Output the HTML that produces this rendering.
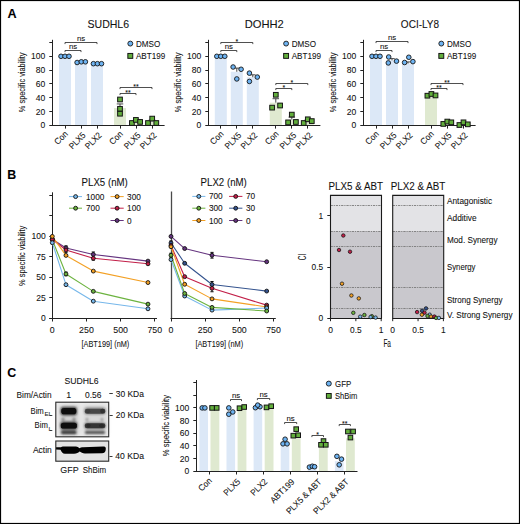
<!DOCTYPE html><html><head><meta charset="utf-8"><title>Figure</title><style>html,body{margin:0;padding:0;background:#fff;}body{width:520px;height:524px;overflow:hidden;font-family:"Liberation Sans", sans-serif;}svg{display:block;} text{stroke:#111;stroke-width:0.08px;}</style></head><body><svg width="520" height="524" viewBox="0 0 520 524" font-family='"Liberation Sans", sans-serif'>
<rect x="0" y="0" width="520" height="524" fill="#fff"/>
<text x="7.6" y="17.9" font-size="12.6" text-anchor="start" font-weight="bold" fill="#000">A</text>
<text x="7.3" y="178.8" font-size="12.4" text-anchor="start" font-weight="bold" fill="#000">B</text>
<text x="7.2" y="376.5" font-size="12.4" text-anchor="start" font-weight="bold" fill="#000">C</text>
<text x="108.3" y="28.3" font-size="10.8" text-anchor="middle" font-weight="normal" fill="#111" textLength="41.6" lengthAdjust="spacingAndGlyphs">SUDHL6</text>
<text transform="translate(24.9 82.4) rotate(-90)" font-size="9.6" text-anchor="middle" fill="#111" textLength="59.6" lengthAdjust="spacingAndGlyphs">% specific viability</text>
<rect x="59" y="56.3" width="12" height="69" fill="#dce8f7"/>
<rect x="75" y="62.16" width="12" height="63.13" fill="#dce8f7"/>
<rect x="91" y="63.68" width="12" height="61.62" fill="#dce8f7"/>
<rect x="114" y="108.12" width="12" height="17.18" fill="#dfe9d0"/>
<rect x="130" y="121.64" width="12" height="3.66" fill="#dfe9d0"/>
<rect x="146" y="121.57" width="12" height="3.73" fill="#dfe9d0"/>
<line x1="52.5" y1="39.8" x2="52.5" y2="126" stroke="#222" stroke-width="1"/>
<line x1="52" y1="125.5" x2="164.6" y2="125.5" stroke="#222" stroke-width="1"/>
<line x1="49.3" y1="125.5" x2="52.5" y2="125.5" stroke="#222" stroke-width="1"/>
<text x="45.3" y="128.4" font-size="8.8" text-anchor="end" font-weight="normal" fill="#111" textLength="4.75" lengthAdjust="spacingAndGlyphs">0</text>
<line x1="49.3" y1="111.5" x2="52.5" y2="111.5" stroke="#222" stroke-width="1"/>
<text x="45.3" y="114.6" font-size="8.8" text-anchor="end" font-weight="normal" fill="#111" textLength="9.5" lengthAdjust="spacingAndGlyphs">20</text>
<line x1="49.3" y1="97.5" x2="52.5" y2="97.5" stroke="#222" stroke-width="1"/>
<text x="45.3" y="100.8" font-size="8.8" text-anchor="end" font-weight="normal" fill="#111" textLength="9.5" lengthAdjust="spacingAndGlyphs">40</text>
<line x1="49.3" y1="83.5" x2="52.5" y2="83.5" stroke="#222" stroke-width="1"/>
<text x="45.3" y="87" font-size="8.8" text-anchor="end" font-weight="normal" fill="#111" textLength="9.5" lengthAdjust="spacingAndGlyphs">60</text>
<line x1="49.3" y1="70.5" x2="52.5" y2="70.5" stroke="#222" stroke-width="1"/>
<text x="45.3" y="73.2" font-size="8.8" text-anchor="end" font-weight="normal" fill="#111" textLength="9.5" lengthAdjust="spacingAndGlyphs">80</text>
<line x1="49.3" y1="56.5" x2="52.5" y2="56.5" stroke="#222" stroke-width="1"/>
<text x="45.3" y="59.4" font-size="8.8" text-anchor="end" font-weight="normal" fill="#111" textLength="14.25" lengthAdjust="spacingAndGlyphs">100</text>
<line x1="49.3" y1="42.5" x2="52.5" y2="42.5" stroke="#222" stroke-width="1"/>
<line x1="65.5" y1="125.5" x2="65.5" y2="128.6" stroke="#222" stroke-width="1"/>
<line x1="81.5" y1="125.5" x2="81.5" y2="128.6" stroke="#222" stroke-width="1"/>
<line x1="97.5" y1="125.5" x2="97.5" y2="128.6" stroke="#222" stroke-width="1"/>
<line x1="120.5" y1="125.5" x2="120.5" y2="128.6" stroke="#222" stroke-width="1"/>
<line x1="136.5" y1="125.5" x2="136.5" y2="128.6" stroke="#222" stroke-width="1"/>
<line x1="152.5" y1="125.5" x2="152.5" y2="128.6" stroke="#222" stroke-width="1"/>
<text transform="translate(68.4 134.6) rotate(-45)" font-size="8.8" text-anchor="end" fill="#111" textLength="15" lengthAdjust="spacingAndGlyphs">Con</text>
<text transform="translate(86.2 135.9) rotate(-45)" font-size="8.8" text-anchor="end" fill="#111" textLength="19.5" lengthAdjust="spacingAndGlyphs">PLX5</text>
<text transform="translate(102.2 135.9) rotate(-45)" font-size="8.8" text-anchor="end" fill="#111" textLength="19.5" lengthAdjust="spacingAndGlyphs">PLX2</text>
<text transform="translate(123.4 134.6) rotate(-45)" font-size="8.8" text-anchor="end" fill="#111" textLength="15" lengthAdjust="spacingAndGlyphs">Con</text>
<text transform="translate(141.2 135.9) rotate(-45)" font-size="8.8" text-anchor="end" fill="#111" textLength="19.5" lengthAdjust="spacingAndGlyphs">PLX5</text>
<text transform="translate(157.2 135.9) rotate(-45)" font-size="8.8" text-anchor="end" fill="#111" textLength="19.5" lengthAdjust="spacingAndGlyphs">PLX2</text>
<line x1="120" y1="108.12" x2="120" y2="103.95" stroke="#333" stroke-width="0.9"/>
<line x1="116.75" y1="103.95" x2="123.25" y2="103.95" stroke="#333" stroke-width="0.9"/>
<line x1="136" y1="121.64" x2="136" y2="120.73" stroke="#333" stroke-width="0.9"/>
<line x1="132.75" y1="120.73" x2="139.25" y2="120.73" stroke="#333" stroke-width="0.9"/>
<line x1="152" y1="121.57" x2="152" y2="120.1" stroke="#333" stroke-width="0.9"/>
<line x1="148.75" y1="120.1" x2="155.25" y2="120.1" stroke="#333" stroke-width="0.9"/>
<circle cx="61" cy="56.3" r="2.3" fill="#6db3f2" stroke="#151515" stroke-width="0.9"/>
<circle cx="65" cy="56.3" r="2.3" fill="#6db3f2" stroke="#151515" stroke-width="0.9"/>
<circle cx="69" cy="56.3" r="2.3" fill="#6db3f2" stroke="#151515" stroke-width="0.9"/>
<circle cx="77.1" cy="62.51" r="2.3" fill="#6db3f2" stroke="#151515" stroke-width="0.9"/>
<circle cx="81.3" cy="61.82" r="2.3" fill="#6db3f2" stroke="#151515" stroke-width="0.9"/>
<circle cx="85.4" cy="61.82" r="2.3" fill="#6db3f2" stroke="#151515" stroke-width="0.9"/>
<circle cx="93.4" cy="63.68" r="2.3" fill="#6db3f2" stroke="#151515" stroke-width="0.9"/>
<circle cx="97.4" cy="63.68" r="2.3" fill="#6db3f2" stroke="#151515" stroke-width="0.9"/>
<circle cx="101.5" cy="63.68" r="2.3" fill="#6db3f2" stroke="#151515" stroke-width="0.9"/>
<rect x="117.65" y="97.14" width="4.7" height="4.7" fill="#62ae3c" stroke="#151515" stroke-width="1"/>
<rect x="117.65" y="106.46" width="4.7" height="4.7" fill="#62ae3c" stroke="#151515" stroke-width="1"/>
<rect x="117.65" y="111.36" width="4.7" height="4.7" fill="#62ae3c" stroke="#151515" stroke-width="1"/>
<rect x="129.55" y="120.67" width="4.7" height="4.7" fill="#62ae3c" stroke="#151515" stroke-width="1"/>
<rect x="133.55" y="117.57" width="4.7" height="4.7" fill="#62ae3c" stroke="#151515" stroke-width="1"/>
<rect x="137.75" y="119.57" width="4.7" height="4.7" fill="#62ae3c" stroke="#151515" stroke-width="1"/>
<rect x="145.65" y="120.67" width="4.7" height="4.7" fill="#62ae3c" stroke="#151515" stroke-width="1"/>
<rect x="149.85" y="116.26" width="4.7" height="4.7" fill="#62ae3c" stroke="#151515" stroke-width="1"/>
<rect x="153.95" y="120.67" width="4.7" height="4.7" fill="#62ae3c" stroke="#151515" stroke-width="1"/>
<path d="M65 44.1V42.5H97V44.1" fill="none" stroke="#222" stroke-width="0.8"/>
<text x="81" y="40.5" font-size="7.8" text-anchor="middle" font-weight="normal" fill="#111">ns</text>
<path d="M65 52.1V50.5H81V52.1" fill="none" stroke="#222" stroke-width="0.8"/>
<text x="73" y="48.5" font-size="7.8" text-anchor="middle" font-weight="normal" fill="#111">ns</text>
<path d="M120 89.1V87.5H152V89.1" fill="none" stroke="#222" stroke-width="0.8"/>
<text x="136" y="88.7" font-size="7" text-anchor="middle" font-weight="normal" fill="#111">**</text>
<path d="M120 95.1V93.5H136V95.1" fill="none" stroke="#222" stroke-width="0.8"/>
<text x="128" y="94.7" font-size="7" text-anchor="middle" font-weight="normal" fill="#111">**</text>
<circle cx="130.3" cy="43.6" r="2.45" fill="#6db3f2" stroke="#151515" stroke-width="0.9"/>
<text x="135.9" y="46.7" font-size="9.2" text-anchor="start" font-weight="normal" fill="#111" textLength="24.3" lengthAdjust="spacingAndGlyphs">DMSO</text>
<rect x="127.85" y="53.45" width="4.9" height="4.9" fill="#62ae3c" stroke="#151515" stroke-width="1"/>
<text x="135.9" y="59" font-size="9.2" text-anchor="start" font-weight="normal" fill="#111" textLength="29.3" lengthAdjust="spacingAndGlyphs">ABT199</text>
<text x="264.2" y="28.3" font-size="10.8" text-anchor="middle" font-weight="normal" fill="#111" textLength="39" lengthAdjust="spacingAndGlyphs">DOHH2</text>
<text transform="translate(180.7 82.4) rotate(-90)" font-size="9.6" text-anchor="middle" fill="#111" textLength="59.6" lengthAdjust="spacingAndGlyphs">% specific viability</text>
<rect x="214.8" y="56.3" width="12" height="69" fill="#dce8f7"/>
<rect x="230.8" y="71.76" width="12" height="53.54" fill="#dce8f7"/>
<rect x="246.8" y="77.21" width="12" height="48.09" fill="#dce8f7"/>
<rect x="269.8" y="102.67" width="12" height="22.63" fill="#dfe9d0"/>
<rect x="285.8" y="119.64" width="12" height="5.66" fill="#dfe9d0"/>
<rect x="301.8" y="121.16" width="12" height="4.14" fill="#dfe9d0"/>
<line x1="208.5" y1="39.8" x2="208.5" y2="126" stroke="#222" stroke-width="1"/>
<line x1="208" y1="125.5" x2="320.4" y2="125.5" stroke="#222" stroke-width="1"/>
<line x1="205.3" y1="125.5" x2="208.5" y2="125.5" stroke="#222" stroke-width="1"/>
<text x="201.3" y="128.4" font-size="8.8" text-anchor="end" font-weight="normal" fill="#111" textLength="4.75" lengthAdjust="spacingAndGlyphs">0</text>
<line x1="205.3" y1="111.5" x2="208.5" y2="111.5" stroke="#222" stroke-width="1"/>
<text x="201.3" y="114.6" font-size="8.8" text-anchor="end" font-weight="normal" fill="#111" textLength="9.5" lengthAdjust="spacingAndGlyphs">20</text>
<line x1="205.3" y1="97.5" x2="208.5" y2="97.5" stroke="#222" stroke-width="1"/>
<text x="201.3" y="100.8" font-size="8.8" text-anchor="end" font-weight="normal" fill="#111" textLength="9.5" lengthAdjust="spacingAndGlyphs">40</text>
<line x1="205.3" y1="83.5" x2="208.5" y2="83.5" stroke="#222" stroke-width="1"/>
<text x="201.3" y="87" font-size="8.8" text-anchor="end" font-weight="normal" fill="#111" textLength="9.5" lengthAdjust="spacingAndGlyphs">60</text>
<line x1="205.3" y1="70.5" x2="208.5" y2="70.5" stroke="#222" stroke-width="1"/>
<text x="201.3" y="73.2" font-size="8.8" text-anchor="end" font-weight="normal" fill="#111" textLength="9.5" lengthAdjust="spacingAndGlyphs">80</text>
<line x1="205.3" y1="56.5" x2="208.5" y2="56.5" stroke="#222" stroke-width="1"/>
<text x="201.3" y="59.4" font-size="8.8" text-anchor="end" font-weight="normal" fill="#111" textLength="14.25" lengthAdjust="spacingAndGlyphs">100</text>
<line x1="205.3" y1="42.5" x2="208.5" y2="42.5" stroke="#222" stroke-width="1"/>
<line x1="220.5" y1="125.5" x2="220.5" y2="128.6" stroke="#222" stroke-width="1"/>
<line x1="236.5" y1="125.5" x2="236.5" y2="128.6" stroke="#222" stroke-width="1"/>
<line x1="252.5" y1="125.5" x2="252.5" y2="128.6" stroke="#222" stroke-width="1"/>
<line x1="275.5" y1="125.5" x2="275.5" y2="128.6" stroke="#222" stroke-width="1"/>
<line x1="291.5" y1="125.5" x2="291.5" y2="128.6" stroke="#222" stroke-width="1"/>
<line x1="307.5" y1="125.5" x2="307.5" y2="128.6" stroke="#222" stroke-width="1"/>
<text transform="translate(224.2 134.6) rotate(-45)" font-size="8.8" text-anchor="end" fill="#111" textLength="15" lengthAdjust="spacingAndGlyphs">Con</text>
<text transform="translate(242 135.9) rotate(-45)" font-size="8.8" text-anchor="end" fill="#111" textLength="19.5" lengthAdjust="spacingAndGlyphs">PLX5</text>
<text transform="translate(258 135.9) rotate(-45)" font-size="8.8" text-anchor="end" fill="#111" textLength="19.5" lengthAdjust="spacingAndGlyphs">PLX2</text>
<text transform="translate(279.2 134.6) rotate(-45)" font-size="8.8" text-anchor="end" fill="#111" textLength="15" lengthAdjust="spacingAndGlyphs">Con</text>
<text transform="translate(297 135.9) rotate(-45)" font-size="8.8" text-anchor="end" fill="#111" textLength="19.5" lengthAdjust="spacingAndGlyphs">PLX5</text>
<text transform="translate(313 135.9) rotate(-45)" font-size="8.8" text-anchor="end" fill="#111" textLength="19.5" lengthAdjust="spacingAndGlyphs">PLX2</text>
<line x1="236.8" y1="71.76" x2="236.8" y2="68.1" stroke="#333" stroke-width="0.9"/>
<line x1="234.05" y1="68.1" x2="239.55" y2="68.1" stroke="#333" stroke-width="0.9"/>
<line x1="252.8" y1="77.21" x2="252.8" y2="74.82" stroke="#333" stroke-width="0.9"/>
<line x1="250.05" y1="74.82" x2="255.55" y2="74.82" stroke="#333" stroke-width="0.9"/>
<line x1="275.8" y1="102.67" x2="275.8" y2="98.7" stroke="#333" stroke-width="0.9"/>
<line x1="272.55" y1="98.7" x2="279.05" y2="98.7" stroke="#333" stroke-width="0.9"/>
<line x1="291.8" y1="119.64" x2="291.8" y2="117.11" stroke="#333" stroke-width="0.9"/>
<line x1="288.55" y1="117.11" x2="295.05" y2="117.11" stroke="#333" stroke-width="0.9"/>
<line x1="307.8" y1="121.16" x2="307.8" y2="120.08" stroke="#333" stroke-width="0.9"/>
<line x1="304.55" y1="120.08" x2="311.05" y2="120.08" stroke="#333" stroke-width="0.9"/>
<circle cx="216.8" cy="56.3" r="2.3" fill="#6db3f2" stroke="#151515" stroke-width="0.9"/>
<circle cx="220.8" cy="56.3" r="2.3" fill="#6db3f2" stroke="#151515" stroke-width="0.9"/>
<circle cx="224.8" cy="56.3" r="2.3" fill="#6db3f2" stroke="#151515" stroke-width="0.9"/>
<circle cx="233.1" cy="67" r="2.3" fill="#6db3f2" stroke="#151515" stroke-width="0.9"/>
<circle cx="241.1" cy="69.27" r="2.3" fill="#6db3f2" stroke="#151515" stroke-width="0.9"/>
<circle cx="236.8" cy="78.93" r="2.3" fill="#6db3f2" stroke="#151515" stroke-width="0.9"/>
<circle cx="249.4" cy="73.14" r="2.3" fill="#6db3f2" stroke="#151515" stroke-width="0.9"/>
<circle cx="257.3" cy="77.07" r="2.3" fill="#6db3f2" stroke="#151515" stroke-width="0.9"/>
<circle cx="249.4" cy="81.42" r="2.3" fill="#6db3f2" stroke="#151515" stroke-width="0.9"/>
<rect x="273.45" y="92.45" width="4.7" height="4.7" fill="#62ae3c" stroke="#151515" stroke-width="1"/>
<rect x="269.75" y="105.29" width="4.7" height="4.7" fill="#62ae3c" stroke="#151515" stroke-width="1"/>
<rect x="277.75" y="103.15" width="4.7" height="4.7" fill="#62ae3c" stroke="#151515" stroke-width="1"/>
<rect x="285.75" y="120.05" width="4.7" height="4.7" fill="#62ae3c" stroke="#151515" stroke-width="1"/>
<rect x="289.45" y="112.26" width="4.7" height="4.7" fill="#62ae3c" stroke="#151515" stroke-width="1"/>
<rect x="293.55" y="119.64" width="4.7" height="4.7" fill="#62ae3c" stroke="#151515" stroke-width="1"/>
<rect x="301.35" y="120.67" width="4.7" height="4.7" fill="#62ae3c" stroke="#151515" stroke-width="1"/>
<rect x="305.45" y="116.95" width="4.7" height="4.7" fill="#62ae3c" stroke="#151515" stroke-width="1"/>
<rect x="309.45" y="118.74" width="4.7" height="4.7" fill="#62ae3c" stroke="#151515" stroke-width="1"/>
<path d="M220.8 44.1V42.5H252.8V44.1" fill="none" stroke="#222" stroke-width="0.8"/>
<text x="236.8" y="43.7" font-size="7" text-anchor="middle" font-weight="normal" fill="#111">*</text>
<path d="M220.8 52.1V50.5H236.8V52.1" fill="none" stroke="#222" stroke-width="0.8"/>
<text x="228.8" y="48.5" font-size="7.8" text-anchor="middle" font-weight="normal" fill="#111">ns</text>
<path d="M275.8 85.1V83.5H307.8V85.1" fill="none" stroke="#222" stroke-width="0.8"/>
<text x="291.8" y="84.7" font-size="7" text-anchor="middle" font-weight="normal" fill="#111">*</text>
<path d="M275.8 90.1V88.5H291.8V90.1" fill="none" stroke="#222" stroke-width="0.8"/>
<text x="283.8" y="89.7" font-size="7" text-anchor="middle" font-weight="normal" fill="#111">*</text>
<circle cx="286.1" cy="43.6" r="2.45" fill="#6db3f2" stroke="#151515" stroke-width="0.9"/>
<text x="291.7" y="46.7" font-size="9.2" text-anchor="start" font-weight="normal" fill="#111" textLength="24.3" lengthAdjust="spacingAndGlyphs">DMSO</text>
<rect x="283.65" y="53.45" width="4.9" height="4.9" fill="#62ae3c" stroke="#151515" stroke-width="1"/>
<text x="291.7" y="59" font-size="9.2" text-anchor="start" font-weight="normal" fill="#111" textLength="29.3" lengthAdjust="spacingAndGlyphs">ABT199</text>
<text x="420" y="28.3" font-size="10.8" text-anchor="middle" font-weight="normal" fill="#111" textLength="38.3" lengthAdjust="spacingAndGlyphs">OCI-LY8</text>
<text transform="translate(335.9 82.4) rotate(-90)" font-size="9.6" text-anchor="middle" fill="#111" textLength="59.6" lengthAdjust="spacingAndGlyphs">% specific viability</text>
<rect x="370" y="56.3" width="12" height="69" fill="#dce8f7"/>
<rect x="386" y="60.37" width="12" height="64.93" fill="#dce8f7"/>
<rect x="402" y="63.55" width="12" height="61.75" fill="#dce8f7"/>
<rect x="425" y="95.01" width="12" height="30.29" fill="#dfe9d0"/>
<rect x="441" y="122.61" width="12" height="2.69" fill="#dfe9d0"/>
<rect x="457" y="123.92" width="12" height="1.38" fill="#dfe9d0"/>
<line x1="363.5" y1="39.8" x2="363.5" y2="126" stroke="#222" stroke-width="1"/>
<line x1="363" y1="125.5" x2="475.6" y2="125.5" stroke="#222" stroke-width="1"/>
<line x1="360.3" y1="125.5" x2="363.5" y2="125.5" stroke="#222" stroke-width="1"/>
<text x="356.3" y="128.4" font-size="8.8" text-anchor="end" font-weight="normal" fill="#111" textLength="4.75" lengthAdjust="spacingAndGlyphs">0</text>
<line x1="360.3" y1="111.5" x2="363.5" y2="111.5" stroke="#222" stroke-width="1"/>
<text x="356.3" y="114.6" font-size="8.8" text-anchor="end" font-weight="normal" fill="#111" textLength="9.5" lengthAdjust="spacingAndGlyphs">20</text>
<line x1="360.3" y1="97.5" x2="363.5" y2="97.5" stroke="#222" stroke-width="1"/>
<text x="356.3" y="100.8" font-size="8.8" text-anchor="end" font-weight="normal" fill="#111" textLength="9.5" lengthAdjust="spacingAndGlyphs">40</text>
<line x1="360.3" y1="83.5" x2="363.5" y2="83.5" stroke="#222" stroke-width="1"/>
<text x="356.3" y="87" font-size="8.8" text-anchor="end" font-weight="normal" fill="#111" textLength="9.5" lengthAdjust="spacingAndGlyphs">60</text>
<line x1="360.3" y1="70.5" x2="363.5" y2="70.5" stroke="#222" stroke-width="1"/>
<text x="356.3" y="73.2" font-size="8.8" text-anchor="end" font-weight="normal" fill="#111" textLength="9.5" lengthAdjust="spacingAndGlyphs">80</text>
<line x1="360.3" y1="56.5" x2="363.5" y2="56.5" stroke="#222" stroke-width="1"/>
<text x="356.3" y="59.4" font-size="8.8" text-anchor="end" font-weight="normal" fill="#111" textLength="14.25" lengthAdjust="spacingAndGlyphs">100</text>
<line x1="360.3" y1="42.5" x2="363.5" y2="42.5" stroke="#222" stroke-width="1"/>
<line x1="376.5" y1="125.5" x2="376.5" y2="128.6" stroke="#222" stroke-width="1"/>
<line x1="392.5" y1="125.5" x2="392.5" y2="128.6" stroke="#222" stroke-width="1"/>
<line x1="408.5" y1="125.5" x2="408.5" y2="128.6" stroke="#222" stroke-width="1"/>
<line x1="431.5" y1="125.5" x2="431.5" y2="128.6" stroke="#222" stroke-width="1"/>
<line x1="447.5" y1="125.5" x2="447.5" y2="128.6" stroke="#222" stroke-width="1"/>
<line x1="463.5" y1="125.5" x2="463.5" y2="128.6" stroke="#222" stroke-width="1"/>
<text transform="translate(379.4 134.6) rotate(-45)" font-size="8.8" text-anchor="end" fill="#111" textLength="15" lengthAdjust="spacingAndGlyphs">Con</text>
<text transform="translate(397.2 135.9) rotate(-45)" font-size="8.8" text-anchor="end" fill="#111" textLength="19.5" lengthAdjust="spacingAndGlyphs">PLX5</text>
<text transform="translate(413.2 135.9) rotate(-45)" font-size="8.8" text-anchor="end" fill="#111" textLength="19.5" lengthAdjust="spacingAndGlyphs">PLX2</text>
<text transform="translate(434.4 134.6) rotate(-45)" font-size="8.8" text-anchor="end" fill="#111" textLength="15" lengthAdjust="spacingAndGlyphs">Con</text>
<text transform="translate(452.2 135.9) rotate(-45)" font-size="8.8" text-anchor="end" fill="#111" textLength="19.5" lengthAdjust="spacingAndGlyphs">PLX5</text>
<text transform="translate(468.2 135.9) rotate(-45)" font-size="8.8" text-anchor="end" fill="#111" textLength="19.5" lengthAdjust="spacingAndGlyphs">PLX2</text>
<line x1="392" y1="60.37" x2="392" y2="58.61" stroke="#333" stroke-width="0.9"/>
<line x1="389.25" y1="58.61" x2="394.75" y2="58.61" stroke="#333" stroke-width="0.9"/>
<line x1="408" y1="63.55" x2="408" y2="61.93" stroke="#333" stroke-width="0.9"/>
<line x1="405.25" y1="61.93" x2="410.75" y2="61.93" stroke="#333" stroke-width="0.9"/>
<line x1="463" y1="123.92" x2="463" y2="123.11" stroke="#333" stroke-width="0.9"/>
<line x1="459.75" y1="123.11" x2="466.25" y2="123.11" stroke="#333" stroke-width="0.9"/>
<circle cx="372" cy="56.3" r="2.3" fill="#6db3f2" stroke="#151515" stroke-width="0.9"/>
<circle cx="376" cy="56.3" r="2.3" fill="#6db3f2" stroke="#151515" stroke-width="0.9"/>
<circle cx="380" cy="56.3" r="2.3" fill="#6db3f2" stroke="#151515" stroke-width="0.9"/>
<circle cx="388.7" cy="56.99" r="2.3" fill="#6db3f2" stroke="#151515" stroke-width="0.9"/>
<circle cx="388.3" cy="62.92" r="2.3" fill="#6db3f2" stroke="#151515" stroke-width="0.9"/>
<circle cx="396.5" cy="61.13" r="2.3" fill="#6db3f2" stroke="#151515" stroke-width="0.9"/>
<circle cx="404.6" cy="62.51" r="2.3" fill="#6db3f2" stroke="#151515" stroke-width="0.9"/>
<circle cx="408.8" cy="57.27" r="2.3" fill="#6db3f2" stroke="#151515" stroke-width="0.9"/>
<circle cx="412.9" cy="61.61" r="2.3" fill="#6db3f2" stroke="#151515" stroke-width="0.9"/>
<rect x="425.05" y="93.35" width="4.7" height="4.7" fill="#62ae3c" stroke="#151515" stroke-width="1"/>
<rect x="429.05" y="91.62" width="4.7" height="4.7" fill="#62ae3c" stroke="#151515" stroke-width="1"/>
<rect x="433.15" y="93.07" width="4.7" height="4.7" fill="#62ae3c" stroke="#151515" stroke-width="1"/>
<rect x="440.95" y="121.57" width="4.7" height="4.7" fill="#62ae3c" stroke="#151515" stroke-width="1"/>
<rect x="444.95" y="119.22" width="4.7" height="4.7" fill="#62ae3c" stroke="#151515" stroke-width="1"/>
<rect x="448.95" y="119.98" width="4.7" height="4.7" fill="#62ae3c" stroke="#151515" stroke-width="1"/>
<rect x="457.05" y="122.67" width="4.7" height="4.7" fill="#62ae3c" stroke="#151515" stroke-width="1"/>
<rect x="461.15" y="119.98" width="4.7" height="4.7" fill="#62ae3c" stroke="#151515" stroke-width="1"/>
<rect x="465.45" y="121.98" width="4.7" height="4.7" fill="#62ae3c" stroke="#151515" stroke-width="1"/>
<path d="M376 43.1V41.5H408V43.1" fill="none" stroke="#222" stroke-width="0.8"/>
<text x="392" y="39.5" font-size="7.8" text-anchor="middle" font-weight="normal" fill="#111">ns</text>
<path d="M376 52.1V50.5H392V52.1" fill="none" stroke="#222" stroke-width="0.8"/>
<text x="384" y="48.5" font-size="7.8" text-anchor="middle" font-weight="normal" fill="#111">ns</text>
<path d="M431 85.1V83.5H463V85.1" fill="none" stroke="#222" stroke-width="0.8"/>
<text x="447" y="84.7" font-size="7" text-anchor="middle" font-weight="normal" fill="#111">**</text>
<path d="M431 90.1V88.5H447V90.1" fill="none" stroke="#222" stroke-width="0.8"/>
<text x="439" y="89.7" font-size="7" text-anchor="middle" font-weight="normal" fill="#111">**</text>
<circle cx="441.3" cy="43.6" r="2.45" fill="#6db3f2" stroke="#151515" stroke-width="0.9"/>
<text x="446.9" y="46.7" font-size="9.2" text-anchor="start" font-weight="normal" fill="#111" textLength="24.3" lengthAdjust="spacingAndGlyphs">DMSO</text>
<rect x="438.85" y="53.45" width="4.9" height="4.9" fill="#62ae3c" stroke="#151515" stroke-width="1"/>
<text x="446.9" y="59" font-size="9.2" text-anchor="start" font-weight="normal" fill="#111" textLength="29.3" lengthAdjust="spacingAndGlyphs">ABT199</text>
<text transform="translate(25 255.9) rotate(-90)" font-size="9.6" text-anchor="middle" fill="#111" textLength="60.2" lengthAdjust="spacingAndGlyphs">% specific viability</text>
<line x1="52.5" y1="192.3" x2="52.5" y2="319" stroke="#222" stroke-width="1"/>
<line x1="49.3" y1="318.5" x2="157" y2="318.5" stroke="#222" stroke-width="1"/>
<line x1="49.3" y1="318.5" x2="52.5" y2="318.5" stroke="#222" stroke-width="1"/>
<text x="45.7" y="321" font-size="8.8" text-anchor="end" font-weight="normal" fill="#111" textLength="4.75" lengthAdjust="spacingAndGlyphs">0</text>
<line x1="49.3" y1="297.5" x2="52.5" y2="297.5" stroke="#222" stroke-width="1"/>
<text x="45.7" y="300.5" font-size="8.8" text-anchor="end" font-weight="normal" fill="#111" textLength="9.5" lengthAdjust="spacingAndGlyphs">25</text>
<line x1="49.3" y1="277.5" x2="52.5" y2="277.5" stroke="#222" stroke-width="1"/>
<text x="45.7" y="280" font-size="8.8" text-anchor="end" font-weight="normal" fill="#111" textLength="9.5" lengthAdjust="spacingAndGlyphs">50</text>
<line x1="49.3" y1="256.5" x2="52.5" y2="256.5" stroke="#222" stroke-width="1"/>
<text x="45.7" y="259.5" font-size="8.8" text-anchor="end" font-weight="normal" fill="#111" textLength="9.5" lengthAdjust="spacingAndGlyphs">75</text>
<line x1="49.3" y1="236.5" x2="52.5" y2="236.5" stroke="#222" stroke-width="1"/>
<text x="45.7" y="239" font-size="8.8" text-anchor="end" font-weight="normal" fill="#111" textLength="14.25" lengthAdjust="spacingAndGlyphs">100</text>
<line x1="49.3" y1="215.5" x2="52.5" y2="215.5" stroke="#222" stroke-width="1"/>
<line x1="49.3" y1="195.5" x2="52.5" y2="195.5" stroke="#222" stroke-width="1"/>
<line x1="52.5" y1="318.5" x2="52.5" y2="321.5" stroke="#222" stroke-width="1"/>
<text x="52.3" y="332.6" font-size="8.8" text-anchor="middle" font-weight="normal" fill="#111" textLength="4.9" lengthAdjust="spacingAndGlyphs">0</text>
<line x1="86.5" y1="318.5" x2="86.5" y2="321.5" stroke="#222" stroke-width="1"/>
<text x="86.47" y="332.6" font-size="8.8" text-anchor="middle" font-weight="normal" fill="#111" textLength="14.7" lengthAdjust="spacingAndGlyphs">250</text>
<line x1="120.5" y1="318.5" x2="120.5" y2="321.5" stroke="#222" stroke-width="1"/>
<text x="120.65" y="332.6" font-size="8.8" text-anchor="middle" font-weight="normal" fill="#111" textLength="14.7" lengthAdjust="spacingAndGlyphs">500</text>
<line x1="154.5" y1="318.5" x2="154.5" y2="321.5" stroke="#222" stroke-width="1"/>
<text x="154.82" y="332.6" font-size="8.8" text-anchor="middle" font-weight="normal" fill="#111" textLength="14.7" lengthAdjust="spacingAndGlyphs">750</text>
<text x="105.4" y="346.8" font-size="9.6" text-anchor="middle" font-weight="normal" fill="#111" textLength="47.8" lengthAdjust="spacingAndGlyphs">[ABT199] (nM)</text>
<text x="104.7" y="185.9" font-size="10.2" text-anchor="middle" font-weight="normal" fill="#111" textLength="46.2" lengthAdjust="spacingAndGlyphs">PLX5 (nM)</text>
<polyline points="52.3,239.68 65.97,273.96 93.31,291.34 147.99,304.13" fill="none" stroke="#6cb33f" stroke-width="1.1" stroke-linejoin="round"/>
<polyline points="52.3,239.19 65.97,247.96 93.31,254.44 147.99,261.08" fill="none" stroke="#65347f" stroke-width="1.1" stroke-linejoin="round"/>
<polyline points="52.3,239.35 65.97,250.01 93.31,258.29 147.99,263.79" fill="none" stroke="#c21f48" stroke-width="1.1" stroke-linejoin="round"/>
<polyline points="52.3,236.4 65.97,255.42 93.31,271.09 147.99,282.57" fill="none" stroke="#f3a024" stroke-width="1.1" stroke-linejoin="round"/>
<polyline points="52.3,242.71 65.97,284.7 93.31,301.18 147.99,308.81" fill="none" stroke="#76b7ea" stroke-width="1.1" stroke-linejoin="round"/>
<line x1="65.97" y1="245.83" x2="65.97" y2="252.39" stroke="#111" stroke-width="1"/>
<line x1="64.37" y1="245.83" x2="67.57" y2="245.83" stroke="#111" stroke-width="1"/>
<line x1="64.37" y1="252.39" x2="67.57" y2="252.39" stroke="#111" stroke-width="1"/>
<line x1="93.31" y1="251.98" x2="93.31" y2="260.18" stroke="#111" stroke-width="1"/>
<line x1="91.71" y1="251.98" x2="94.91" y2="251.98" stroke="#111" stroke-width="1"/>
<line x1="91.71" y1="260.18" x2="94.91" y2="260.18" stroke="#111" stroke-width="1"/>
<line x1="65.97" y1="272.07" x2="65.97" y2="275.76" stroke="#111" stroke-width="1"/>
<line x1="64.37" y1="272.07" x2="67.57" y2="272.07" stroke="#111" stroke-width="1"/>
<line x1="64.37" y1="275.76" x2="67.57" y2="275.76" stroke="#111" stroke-width="1"/>
<line x1="52.3" y1="238.04" x2="52.3" y2="240.5" stroke="#111" stroke-width="1"/>
<line x1="50.7" y1="238.04" x2="53.9" y2="238.04" stroke="#111" stroke-width="1"/>
<line x1="50.7" y1="240.5" x2="53.9" y2="240.5" stroke="#111" stroke-width="1"/>
<circle cx="52.3" cy="239.68" r="1.95" fill="#6cb33f" stroke="#111" stroke-width="0.9"/>
<circle cx="65.97" cy="273.96" r="1.95" fill="#6cb33f" stroke="#111" stroke-width="0.9"/>
<circle cx="93.31" cy="291.34" r="1.95" fill="#6cb33f" stroke="#111" stroke-width="0.9"/>
<circle cx="147.99" cy="304.13" r="1.95" fill="#6cb33f" stroke="#111" stroke-width="0.9"/>
<circle cx="52.3" cy="239.19" r="1.95" fill="#65347f" stroke="#111" stroke-width="0.9"/>
<circle cx="65.97" cy="247.96" r="1.95" fill="#65347f" stroke="#111" stroke-width="0.9"/>
<circle cx="93.31" cy="254.44" r="1.95" fill="#65347f" stroke="#111" stroke-width="0.9"/>
<circle cx="147.99" cy="261.08" r="1.95" fill="#65347f" stroke="#111" stroke-width="0.9"/>
<circle cx="52.3" cy="239.35" r="1.95" fill="#c21f48" stroke="#111" stroke-width="0.9"/>
<circle cx="65.97" cy="250.01" r="1.95" fill="#c21f48" stroke="#111" stroke-width="0.9"/>
<circle cx="93.31" cy="258.29" r="1.95" fill="#c21f48" stroke="#111" stroke-width="0.9"/>
<circle cx="147.99" cy="263.79" r="1.95" fill="#c21f48" stroke="#111" stroke-width="0.9"/>
<circle cx="52.3" cy="236.4" r="1.95" fill="#f3a024" stroke="#111" stroke-width="0.9"/>
<circle cx="65.97" cy="255.42" r="1.95" fill="#f3a024" stroke="#111" stroke-width="0.9"/>
<circle cx="93.31" cy="271.09" r="1.95" fill="#f3a024" stroke="#111" stroke-width="0.9"/>
<circle cx="147.99" cy="282.57" r="1.95" fill="#f3a024" stroke="#111" stroke-width="0.9"/>
<circle cx="52.3" cy="242.71" r="1.95" fill="#76b7ea" stroke="#111" stroke-width="0.9"/>
<circle cx="65.97" cy="284.7" r="1.95" fill="#76b7ea" stroke="#111" stroke-width="0.9"/>
<circle cx="93.31" cy="301.18" r="1.95" fill="#76b7ea" stroke="#111" stroke-width="0.9"/>
<circle cx="147.99" cy="308.81" r="1.95" fill="#76b7ea" stroke="#111" stroke-width="0.9"/>
<line x1="69" y1="196.6" x2="82" y2="196.6" stroke="#76b7ea" stroke-width="1"/>
<circle cx="75.6" cy="196.6" r="1.95" fill="#76b7ea" stroke="#111" stroke-width="0.9"/>
<text x="86" y="199.6" font-size="8.9" text-anchor="start" font-weight="normal" fill="#111" textLength="18.4" lengthAdjust="spacingAndGlyphs">1000</text>
<line x1="110.5" y1="196.6" x2="123.7" y2="196.6" stroke="#f3a024" stroke-width="1"/>
<circle cx="117.1" cy="196.6" r="1.95" fill="#f3a024" stroke="#111" stroke-width="0.9"/>
<text x="127.1" y="199.6" font-size="8.9" text-anchor="start" font-weight="normal" fill="#111" textLength="13.8" lengthAdjust="spacingAndGlyphs">300</text>
<line x1="69" y1="208.2" x2="82" y2="208.2" stroke="#6cb33f" stroke-width="1"/>
<circle cx="75.6" cy="208.2" r="1.95" fill="#6cb33f" stroke="#111" stroke-width="0.9"/>
<text x="86" y="211.2" font-size="8.9" text-anchor="start" font-weight="normal" fill="#111" textLength="13.8" lengthAdjust="spacingAndGlyphs">700</text>
<line x1="110.5" y1="208.2" x2="123.7" y2="208.2" stroke="#c21f48" stroke-width="1"/>
<circle cx="117.1" cy="208.2" r="1.95" fill="#c21f48" stroke="#111" stroke-width="0.9"/>
<text x="127.1" y="211.2" font-size="8.9" text-anchor="start" font-weight="normal" fill="#111" textLength="13.8" lengthAdjust="spacingAndGlyphs">100</text>
<line x1="110.5" y1="220.5" x2="123.7" y2="220.5" stroke="#65347f" stroke-width="1"/>
<circle cx="117.1" cy="220.5" r="1.95" fill="#65347f" stroke="#111" stroke-width="0.9"/>
<text x="127.1" y="223.5" font-size="8.9" text-anchor="start" font-weight="normal" fill="#111" textLength="4.6" lengthAdjust="spacingAndGlyphs">0</text>
<line x1="171.5" y1="191.5" x2="171.5" y2="319" stroke="#4a4a4a" stroke-width="1.3"/>
<line x1="170.5" y1="318.5" x2="275.8" y2="318.5" stroke="#222" stroke-width="1"/>
<line x1="171.5" y1="318.5" x2="171.5" y2="321.5" stroke="#222" stroke-width="1"/>
<text x="171" y="332.6" font-size="8.8" text-anchor="middle" font-weight="normal" fill="#111" textLength="4.9" lengthAdjust="spacingAndGlyphs">0</text>
<line x1="205.5" y1="318.5" x2="205.5" y2="321.5" stroke="#222" stroke-width="1"/>
<text x="205.18" y="332.6" font-size="8.8" text-anchor="middle" font-weight="normal" fill="#111" textLength="14.7" lengthAdjust="spacingAndGlyphs">250</text>
<line x1="239.5" y1="318.5" x2="239.5" y2="321.5" stroke="#222" stroke-width="1"/>
<text x="239.35" y="332.6" font-size="8.8" text-anchor="middle" font-weight="normal" fill="#111" textLength="14.7" lengthAdjust="spacingAndGlyphs">500</text>
<line x1="273.5" y1="318.5" x2="273.5" y2="321.5" stroke="#222" stroke-width="1"/>
<text x="273.52" y="332.6" font-size="8.8" text-anchor="middle" font-weight="normal" fill="#111" textLength="14.7" lengthAdjust="spacingAndGlyphs">750</text>
<text x="219.3" y="346.8" font-size="9.6" text-anchor="middle" font-weight="normal" fill="#111" textLength="47.8" lengthAdjust="spacingAndGlyphs">[ABT199] (nM)</text>
<text x="223.7" y="185.9" font-size="10.2" text-anchor="middle" font-weight="normal" fill="#111" textLength="46.2" lengthAdjust="spacingAndGlyphs">PLX2 (nM)</text>
<polyline points="171,236.4 184.67,248.54 212.01,255.26 266.69,261.74" fill="none" stroke="#65347f" stroke-width="1.1" stroke-linejoin="round"/>
<polyline points="171,242.96 184.67,263.3 212.01,284.53 266.69,291.09" fill="none" stroke="#34538e" stroke-width="1.1" stroke-linejoin="round"/>
<polyline points="171,245.42 184.67,276.66 212.01,288.31 266.69,305.12" fill="none" stroke="#c21f48" stroke-width="1.1" stroke-linejoin="round"/>
<polyline points="171,246.73 184.67,284.29 212.01,298.88 266.69,306.92" fill="none" stroke="#f3a024" stroke-width="1.1" stroke-linejoin="round"/>
<polyline points="171,259.61 184.67,296.01 212.01,310.12 266.69,308.07" fill="none" stroke="#76b7ea" stroke-width="1.1" stroke-linejoin="round"/>
<polyline points="171,255.26 184.67,293.47 212.01,307.41 266.69,311.02" fill="none" stroke="#6cb33f" stroke-width="1.1" stroke-linejoin="round"/>
<line x1="212.01" y1="252.39" x2="212.01" y2="258.13" stroke="#111" stroke-width="1"/>
<line x1="210.41" y1="252.39" x2="213.61" y2="252.39" stroke="#111" stroke-width="1"/>
<line x1="210.41" y1="258.13" x2="213.61" y2="258.13" stroke="#111" stroke-width="1"/>
<line x1="212.01" y1="281.5" x2="212.01" y2="291.75" stroke="#111" stroke-width="1"/>
<line x1="210.41" y1="281.5" x2="213.61" y2="281.5" stroke="#111" stroke-width="1"/>
<line x1="210.41" y1="291.75" x2="213.61" y2="291.75" stroke="#111" stroke-width="1"/>
<line x1="171" y1="240.91" x2="171" y2="245.01" stroke="#111" stroke-width="1"/>
<line x1="169.4" y1="240.91" x2="172.6" y2="240.91" stroke="#111" stroke-width="1"/>
<line x1="169.4" y1="245.01" x2="172.6" y2="245.01" stroke="#111" stroke-width="1"/>
<line x1="171" y1="253.21" x2="171" y2="257.31" stroke="#111" stroke-width="1"/>
<line x1="169.4" y1="253.21" x2="172.6" y2="253.21" stroke="#111" stroke-width="1"/>
<line x1="169.4" y1="257.31" x2="172.6" y2="257.31" stroke="#111" stroke-width="1"/>
<circle cx="171" cy="236.4" r="1.95" fill="#65347f" stroke="#111" stroke-width="0.9"/>
<circle cx="184.67" cy="248.54" r="1.95" fill="#65347f" stroke="#111" stroke-width="0.9"/>
<circle cx="212.01" cy="255.26" r="1.95" fill="#65347f" stroke="#111" stroke-width="0.9"/>
<circle cx="266.69" cy="261.74" r="1.95" fill="#65347f" stroke="#111" stroke-width="0.9"/>
<circle cx="171" cy="242.96" r="1.95" fill="#34538e" stroke="#111" stroke-width="0.9"/>
<circle cx="184.67" cy="263.3" r="1.95" fill="#34538e" stroke="#111" stroke-width="0.9"/>
<circle cx="212.01" cy="284.53" r="1.95" fill="#34538e" stroke="#111" stroke-width="0.9"/>
<circle cx="266.69" cy="291.09" r="1.95" fill="#34538e" stroke="#111" stroke-width="0.9"/>
<circle cx="171" cy="245.42" r="1.95" fill="#c21f48" stroke="#111" stroke-width="0.9"/>
<circle cx="184.67" cy="276.66" r="1.95" fill="#c21f48" stroke="#111" stroke-width="0.9"/>
<circle cx="212.01" cy="288.31" r="1.95" fill="#c21f48" stroke="#111" stroke-width="0.9"/>
<circle cx="266.69" cy="305.12" r="1.95" fill="#c21f48" stroke="#111" stroke-width="0.9"/>
<circle cx="171" cy="246.73" r="1.95" fill="#f3a024" stroke="#111" stroke-width="0.9"/>
<circle cx="184.67" cy="284.29" r="1.95" fill="#f3a024" stroke="#111" stroke-width="0.9"/>
<circle cx="212.01" cy="298.88" r="1.95" fill="#f3a024" stroke="#111" stroke-width="0.9"/>
<circle cx="266.69" cy="306.92" r="1.95" fill="#f3a024" stroke="#111" stroke-width="0.9"/>
<circle cx="171" cy="259.61" r="1.95" fill="#76b7ea" stroke="#111" stroke-width="0.9"/>
<circle cx="184.67" cy="296.01" r="1.95" fill="#76b7ea" stroke="#111" stroke-width="0.9"/>
<circle cx="212.01" cy="310.12" r="1.95" fill="#76b7ea" stroke="#111" stroke-width="0.9"/>
<circle cx="266.69" cy="308.07" r="1.95" fill="#76b7ea" stroke="#111" stroke-width="0.9"/>
<circle cx="171" cy="255.26" r="1.95" fill="#6cb33f" stroke="#111" stroke-width="0.9"/>
<circle cx="184.67" cy="293.47" r="1.95" fill="#6cb33f" stroke="#111" stroke-width="0.9"/>
<circle cx="212.01" cy="307.41" r="1.95" fill="#6cb33f" stroke="#111" stroke-width="0.9"/>
<circle cx="266.69" cy="311.02" r="1.95" fill="#6cb33f" stroke="#111" stroke-width="0.9"/>
<line x1="192.3" y1="196.4" x2="205.4" y2="196.4" stroke="#76b7ea" stroke-width="1"/>
<circle cx="198.8" cy="196.4" r="1.95" fill="#76b7ea" stroke="#111" stroke-width="0.9"/>
<text x="208.9" y="199.4" font-size="8.9" text-anchor="start" font-weight="normal" fill="#111" textLength="13.8" lengthAdjust="spacingAndGlyphs">700</text>
<line x1="229.1" y1="196.4" x2="242.4" y2="196.4" stroke="#c21f48" stroke-width="1"/>
<circle cx="235.7" cy="196.4" r="1.95" fill="#c21f48" stroke="#111" stroke-width="0.9"/>
<text x="245.9" y="199.4" font-size="8.9" text-anchor="start" font-weight="normal" fill="#111" textLength="9.2" lengthAdjust="spacingAndGlyphs">70</text>
<line x1="192.3" y1="208.2" x2="205.4" y2="208.2" stroke="#6cb33f" stroke-width="1"/>
<circle cx="198.8" cy="208.2" r="1.95" fill="#6cb33f" stroke="#111" stroke-width="0.9"/>
<text x="208.9" y="211.2" font-size="8.9" text-anchor="start" font-weight="normal" fill="#111" textLength="13.8" lengthAdjust="spacingAndGlyphs">300</text>
<line x1="229.1" y1="208.2" x2="242.4" y2="208.2" stroke="#34538e" stroke-width="1"/>
<circle cx="235.7" cy="208.2" r="1.95" fill="#34538e" stroke="#111" stroke-width="0.9"/>
<text x="245.9" y="211.2" font-size="8.9" text-anchor="start" font-weight="normal" fill="#111" textLength="9.2" lengthAdjust="spacingAndGlyphs">30</text>
<line x1="192.3" y1="220.5" x2="205.4" y2="220.5" stroke="#f3a024" stroke-width="1"/>
<circle cx="198.8" cy="220.5" r="1.95" fill="#f3a024" stroke="#111" stroke-width="0.9"/>
<text x="208.9" y="223.5" font-size="8.9" text-anchor="start" font-weight="normal" fill="#111" textLength="13.8" lengthAdjust="spacingAndGlyphs">100</text>
<line x1="229.1" y1="220.5" x2="242.4" y2="220.5" stroke="#65347f" stroke-width="1"/>
<circle cx="235.7" cy="220.5" r="1.95" fill="#65347f" stroke="#111" stroke-width="0.9"/>
<text x="245.9" y="223.5" font-size="8.9" text-anchor="start" font-weight="normal" fill="#111" textLength="4.6" lengthAdjust="spacingAndGlyphs">0</text>
<rect x="330.5" y="195.4" width="51" height="35.79" fill="#e3e3e6"/>
<rect x="330.5" y="231.19" width="51" height="87.21" fill="#c9c8cd"/>
<line x1="330.5" y1="205.5" x2="381.5" y2="205.5" stroke="#757575" stroke-width="0.85" stroke-dasharray="2.3 0.9 1.2 0.9"/>
<line x1="330.5" y1="231.5" x2="381.5" y2="231.5" stroke="#757575" stroke-width="0.85" stroke-dasharray="2.3 0.9 1.2 0.9"/>
<line x1="330.5" y1="246.5" x2="381.5" y2="246.5" stroke="#757575" stroke-width="0.85" stroke-dasharray="2.3 0.9 1.2 0.9"/>
<line x1="330.5" y1="287.5" x2="381.5" y2="287.5" stroke="#757575" stroke-width="0.85" stroke-dasharray="2.3 0.9 1.2 0.9"/>
<line x1="330.5" y1="308.5" x2="381.5" y2="308.5" stroke="#757575" stroke-width="0.85" stroke-dasharray="2.3 0.9 1.2 0.9"/>
<path d="M330.5 318.4V195.4H381.5V318.4" fill="none" stroke="#1a1a1a" stroke-width="1.1"/>
<line x1="330" y1="318.5" x2="382" y2="318.5" stroke="#1a1a1a" stroke-width="1.1"/>
<line x1="330.5" y1="318.5" x2="330.5" y2="321.2" stroke="#222" stroke-width="1"/>
<text x="330.5" y="332.9" font-size="8.8" text-anchor="middle" font-weight="normal" fill="#111" textLength="4.7" lengthAdjust="spacingAndGlyphs">0</text>
<line x1="355.85" y1="318.5" x2="355.85" y2="321.2" stroke="#222" stroke-width="1"/>
<text x="355.85" y="332.9" font-size="8.8" text-anchor="middle" font-weight="normal" fill="#111" textLength="11.6" lengthAdjust="spacingAndGlyphs">0.5</text>
<line x1="381.2" y1="318.5" x2="381.2" y2="321.2" stroke="#222" stroke-width="1"/>
<text x="381.2" y="332.9" font-size="8.8" text-anchor="middle" font-weight="normal" fill="#111" textLength="4.7" lengthAdjust="spacingAndGlyphs">1</text>
<text x="355.75" y="189.6" font-size="10.4" text-anchor="middle" font-weight="normal" fill="#111" textLength="54.5" lengthAdjust="spacingAndGlyphs">PLX5 &amp; ABT</text>
<circle cx="343.3" cy="235.5" r="1.75" fill="#c21f48" stroke="#111" stroke-width="0.75"/>
<circle cx="339" cy="250" r="1.75" fill="#c21f48" stroke="#111" stroke-width="0.75"/>
<circle cx="350" cy="251.7" r="1.75" fill="#c21f48" stroke="#111" stroke-width="0.75"/>
<circle cx="342" cy="283.7" r="1.75" fill="#f3a024" stroke="#111" stroke-width="0.75"/>
<circle cx="351.4" cy="295.5" r="1.75" fill="#f3a024" stroke="#111" stroke-width="0.75"/>
<circle cx="358.8" cy="298.4" r="1.75" fill="#f3a024" stroke="#111" stroke-width="0.75"/>
<circle cx="353.3" cy="312.8" r="1.75" fill="#6cb33f" stroke="#111" stroke-width="0.75"/>
<circle cx="364.4" cy="315" r="1.75" fill="#6cb33f" stroke="#111" stroke-width="0.75"/>
<circle cx="371.8" cy="316.2" r="1.75" fill="#6cb33f" stroke="#111" stroke-width="0.75"/>
<circle cx="360.2" cy="316.7" r="1.75" fill="#76b7ea" stroke="#111" stroke-width="0.75"/>
<circle cx="370.6" cy="317.1" r="1.75" fill="#76b7ea" stroke="#111" stroke-width="0.75"/>
<circle cx="375.6" cy="317.6" r="1.75" fill="#76b7ea" stroke="#111" stroke-width="0.75"/>
<rect x="392.7" y="195.4" width="51" height="35.79" fill="#e3e3e6"/>
<rect x="392.7" y="231.19" width="51" height="87.21" fill="#c9c8cd"/>
<line x1="392.7" y1="205.5" x2="443.7" y2="205.5" stroke="#757575" stroke-width="0.85" stroke-dasharray="2.3 0.9 1.2 0.9"/>
<line x1="392.7" y1="231.5" x2="443.7" y2="231.5" stroke="#757575" stroke-width="0.85" stroke-dasharray="2.3 0.9 1.2 0.9"/>
<line x1="392.7" y1="246.5" x2="443.7" y2="246.5" stroke="#757575" stroke-width="0.85" stroke-dasharray="2.3 0.9 1.2 0.9"/>
<line x1="392.7" y1="287.5" x2="443.7" y2="287.5" stroke="#757575" stroke-width="0.85" stroke-dasharray="2.3 0.9 1.2 0.9"/>
<line x1="392.7" y1="308.5" x2="443.7" y2="308.5" stroke="#757575" stroke-width="0.85" stroke-dasharray="2.3 0.9 1.2 0.9"/>
<path d="M392.7 318.4V195.4H443.7V318.4" fill="none" stroke="#1a1a1a" stroke-width="1.1"/>
<line x1="392.2" y1="318.5" x2="444.2" y2="318.5" stroke="#1a1a1a" stroke-width="1.1"/>
<line x1="392.7" y1="318.5" x2="392.7" y2="321.2" stroke="#222" stroke-width="1"/>
<text x="392.7" y="332.9" font-size="8.8" text-anchor="middle" font-weight="normal" fill="#111" textLength="4.7" lengthAdjust="spacingAndGlyphs">0</text>
<line x1="418.05" y1="318.5" x2="418.05" y2="321.2" stroke="#222" stroke-width="1"/>
<text x="418.05" y="332.9" font-size="8.8" text-anchor="middle" font-weight="normal" fill="#111" textLength="11.6" lengthAdjust="spacingAndGlyphs">0.5</text>
<line x1="443.4" y1="318.5" x2="443.4" y2="321.2" stroke="#222" stroke-width="1"/>
<text x="443.4" y="332.9" font-size="8.8" text-anchor="middle" font-weight="normal" fill="#111" textLength="4.7" lengthAdjust="spacingAndGlyphs">1</text>
<text x="418.05" y="189.6" font-size="10.4" text-anchor="middle" font-weight="normal" fill="#111" textLength="54.5" lengthAdjust="spacingAndGlyphs">PLX2 &amp; ABT</text>
<circle cx="417.1" cy="312.1" r="1.75" fill="#c21f48" stroke="#111" stroke-width="0.75"/>
<circle cx="426" cy="308.4" r="1.75" fill="#34538e" stroke="#111" stroke-width="0.75"/>
<circle cx="422.1" cy="310.8" r="1.75" fill="#34538e" stroke="#111" stroke-width="0.75"/>
<circle cx="424.5" cy="312.7" r="1.75" fill="#c21f48" stroke="#111" stroke-width="0.75"/>
<circle cx="421.9" cy="314.7" r="1.75" fill="#f3a024" stroke="#111" stroke-width="0.75"/>
<circle cx="429.7" cy="314.7" r="1.75" fill="#76b7ea" stroke="#111" stroke-width="0.75"/>
<circle cx="427.5" cy="316" r="1.75" fill="#6cb33f" stroke="#111" stroke-width="0.75"/>
<circle cx="431" cy="316.6" r="1.75" fill="#f3a024" stroke="#111" stroke-width="0.75"/>
<circle cx="434.4" cy="316.6" r="1.75" fill="#c21f48" stroke="#111" stroke-width="0.75"/>
<circle cx="436.1" cy="317.9" r="1.75" fill="#6cb33f" stroke="#111" stroke-width="0.75"/>
<circle cx="438.9" cy="317.9" r="1.75" fill="#76b7ea" stroke="#111" stroke-width="0.75"/>
<line x1="327.3" y1="318.5" x2="330.5" y2="318.5" stroke="#222" stroke-width="1"/>
<text x="323.2" y="321.4" font-size="8.8" text-anchor="end" font-weight="normal" fill="#111" textLength="4.7" lengthAdjust="spacingAndGlyphs">0</text>
<line x1="327.3" y1="267.5" x2="330.5" y2="267.5" stroke="#222" stroke-width="1"/>
<text x="323.2" y="270.1" font-size="8.8" text-anchor="end" font-weight="normal" fill="#111" textLength="11.6" lengthAdjust="spacingAndGlyphs">0.5</text>
<line x1="327.3" y1="215.5" x2="330.5" y2="215.5" stroke="#222" stroke-width="1"/>
<text x="323.2" y="218.8" font-size="8.8" text-anchor="end" font-weight="normal" fill="#111" textLength="4.7" lengthAdjust="spacingAndGlyphs">1</text>
<text transform="translate(305.8 257) rotate(-90)" font-size="10.8" text-anchor="middle" fill="#111" textLength="6.4" lengthAdjust="spacingAndGlyphs">CI</text>
<text x="387.2" y="346.8" font-size="10.5" text-anchor="middle" font-weight="normal" fill="#111" textLength="7.6" lengthAdjust="spacingAndGlyphs">Fa</text>
<text x="447" y="203.6" font-size="8.9" text-anchor="start" font-weight="normal" fill="#111" textLength="45.1" lengthAdjust="spacingAndGlyphs">Antagonistic</text>
<text x="447" y="221" font-size="8.9" text-anchor="start" font-weight="normal" fill="#111" textLength="29.5" lengthAdjust="spacingAndGlyphs">Additive</text>
<text x="447" y="242.5" font-size="8.9" text-anchor="start" font-weight="normal" fill="#111" textLength="50.5" lengthAdjust="spacingAndGlyphs">Mod. Synergy</text>
<text x="447" y="270" font-size="8.9" text-anchor="start" font-weight="normal" fill="#111" textLength="28.5" lengthAdjust="spacingAndGlyphs">Synergy</text>
<text x="447" y="302.8" font-size="8.9" text-anchor="start" font-weight="normal" fill="#111" textLength="55.5" lengthAdjust="spacingAndGlyphs">Strong Synergy</text>
<text x="447" y="317.6" font-size="8.9" text-anchor="start" font-weight="normal" fill="#111" textLength="65.5" lengthAdjust="spacingAndGlyphs">V. Strong Synergy</text>
<text x="81.5" y="383.9" font-size="9.2" text-anchor="middle" font-weight="normal" fill="#111" textLength="34.2" lengthAdjust="spacingAndGlyphs">SUDHL6</text>
<text x="16.6" y="397.9" font-size="8.9" text-anchor="start" font-weight="normal" fill="#111" textLength="34.9" lengthAdjust="spacingAndGlyphs">Bim/Actin</text>
<text x="68.7" y="398.1" font-size="8.9" text-anchor="middle" font-weight="normal" fill="#111">1</text>
<text x="93.3" y="398.1" font-size="8.9" text-anchor="middle" font-weight="normal" fill="#111" textLength="16.4" lengthAdjust="spacingAndGlyphs">0.56</text>
<line x1="109.3" y1="393.5" x2="112.8" y2="393.5" stroke="#222" stroke-width="0.9"/>
<text x="115.7" y="397.2" font-size="8.8" text-anchor="start" font-weight="normal" fill="#111" textLength="28.2" lengthAdjust="spacingAndGlyphs">30 KDa</text>
<line x1="109.5" y1="415.5" x2="112.7" y2="415.5" stroke="#222" stroke-width="0.9"/>
<text x="115.8" y="418.2" font-size="8.8" text-anchor="start" font-weight="normal" fill="#111" textLength="28.1" lengthAdjust="spacingAndGlyphs">20 KDa</text>
<line x1="109.5" y1="456.5" x2="112.5" y2="456.5" stroke="#222" stroke-width="0.9"/>
<text x="115.3" y="459" font-size="8.8" text-anchor="start" font-weight="normal" fill="#111" textLength="28.7" lengthAdjust="spacingAndGlyphs">40 KDa</text>
<text x="30.5" y="414.0" font-size="8.9" fill="#111" textLength="13.3" lengthAdjust="spacingAndGlyphs">Bim</text>
<text x="44.4" y="416.4" font-size="6.0" fill="#111" textLength="7.4" lengthAdjust="spacingAndGlyphs">EL</text>
<text x="34.6" y="428.4" font-size="8.9" fill="#111" textLength="13.3" lengthAdjust="spacingAndGlyphs">Bim</text>
<text x="48.6" y="430.8" font-size="6.0" fill="#111">L</text>
<line x1="50" y1="415.5" x2="52.3" y2="415.5" stroke="#222" stroke-width="0.8"/>
<line x1="50" y1="430.5" x2="52.3" y2="430.5" stroke="#222" stroke-width="0.8"/>
<text x="32.9" y="453" font-size="8.9" text-anchor="start" font-weight="normal" fill="#111" textLength="18.9" lengthAdjust="spacingAndGlyphs">Actin</text>
<text x="69.5" y="472.8" font-size="8.9" text-anchor="middle" font-weight="normal" fill="#111" textLength="18.3" lengthAdjust="spacingAndGlyphs">GFP</text>
<text x="94.5" y="472.8" font-size="8.9" text-anchor="middle" font-weight="normal" fill="#111" textLength="23.4" lengthAdjust="spacingAndGlyphs">ShBim</text>
<defs><filter id="bl6" x="-30%" y="-60%" width="160%" height="220%"><feGaussianBlur stdDeviation="0.6"/></filter><filter id="bl9" x="-30%" y="-60%" width="160%" height="220%"><feGaussianBlur stdDeviation="0.9"/></filter><filter id="bl20" x="-30%" y="-30%" width="160%" height="160%"><feGaussianBlur stdDeviation="2.0"/></filter></defs>
<rect x="55.8" y="402.2" width="52.9" height="34.6" fill="#ececec"/>
<g filter="url(#bl20)">
<rect x="59.5" y="405" width="19.5" height="30" fill="#d2d2d2"/>
<rect x="83" y="405" width="23.5" height="30" fill="#d8d8d8"/>
</g>
<g filter="url(#bl9)">
<ellipse cx="63" cy="419.2" rx="1.6" ry="1.0" fill="#555"/><ellipse cx="74" cy="419.2" rx="1.6" ry="1.0" fill="#555"/>
<ellipse cx="87" cy="419.5" rx="1.4" ry="0.9" fill="#777"/><ellipse cx="102" cy="419.5" rx="1.4" ry="0.9" fill="#777"/>
<rect x="61" y="430.6" width="15.5" height="3.6" fill="#3a3a3a" rx="1.4"/>
<rect x="85" y="430.8" width="20" height="3.3" fill="#555" rx="1.4"/>
<rect x="60.5" y="406.8" width="16.5" height="8.6" fill="#444" rx="3"/>
<rect x="60.2" y="421.6" width="17.2" height="8" fill="#444" rx="3"/>
<rect x="84.2" y="407.6" width="21.6" height="6.8" fill="#888" rx="3"/>
<rect x="84.2" y="422.4" width="21.6" height="6.6" fill="#777" rx="3"/>
</g>
<g filter="url(#bl6)">
<rect x="61.3" y="408" width="15" height="6.2" fill="#080808" rx="2.8"/>
<rect x="84.8" y="408.7" width="20.5" height="5" fill="#474747" rx="2.3"/>
<ellipse cx="88" cy="411.2" rx="2.2" ry="2.0" fill="#3c3c3c"/><ellipse cx="102.5" cy="411.0" rx="2.4" ry="2.2" fill="#333"/>
<rect x="60.8" y="422.7" width="16.1" height="5.8" fill="#080808" rx="2.6"/>
<rect x="84.8" y="423.2" width="20.5" height="5" fill="#363636" rx="2.3"/>
<ellipse cx="88.5" cy="425.8" rx="2.2" ry="2.0" fill="#2c2c2c"/><ellipse cx="101.5" cy="425.8" rx="2.4" ry="2.0" fill="#2a2a2a"/>
</g>
<rect x="55.8" y="402.2" width="52.9" height="34.6" fill="none" stroke="#2a2a2a" stroke-width="1.1"/>
<rect x="55.8" y="441" width="52.9" height="20.2" fill="#e2e2e2"/>
<g filter="url(#bl6)">
<path d="M56 447.3 L61 447.3 C61.5 446.4 63 446.3 66 446.5 L76 446.4 C77.5 446.5 78 447.2 79.5 448.2 C80.5 447.6 81.5 447.2 83 447.2 L103 446.6 C105 446 106 447 105.8 449 C105.6 452 104.5 453 102 453.2 L85 453.4 C82.5 453.2 81 452.3 79.5 451.5 C78 452.8 77 453.6 74 453.8 L65 453.8 C62.5 453.7 61.5 452 60.5 449.8 L56 449.5 Z" fill="#050505"/>
</g>
<rect x="55.8" y="441.0" width="52.9" height="20.2" fill="none" stroke="#2a2a2a" stroke-width="1.1"/>
<rect x="199.4" y="407.9" width="8.6" height="63.4" fill="#dce8f7"/>
<rect x="210.5" y="407.9" width="8.8" height="63.4" fill="#dfe9d0"/>
<rect x="226.5" y="411.07" width="8.6" height="60.23" fill="#dce8f7"/>
<rect x="237.6" y="407.65" width="8.8" height="63.65" fill="#dfe9d0"/>
<rect x="253.6" y="406.63" width="8.6" height="64.67" fill="#dce8f7"/>
<rect x="264.7" y="406.82" width="8.8" height="64.48" fill="#dfe9d0"/>
<rect x="280.7" y="446.26" width="8.6" height="25.04" fill="#dce8f7"/>
<rect x="291.8" y="438.33" width="8.8" height="32.97" fill="#dfe9d0"/>
<rect x="307.8" y="466.67" width="8.6" height="4.63" fill="#dce8f7"/>
<rect x="318.9" y="445.94" width="8.8" height="25.36" fill="#dfe9d0"/>
<rect x="334.9" y="461.16" width="8.6" height="10.14" fill="#dce8f7"/>
<rect x="346" y="438.33" width="8.8" height="32.97" fill="#dfe9d0"/>
<line x1="196.5" y1="380" x2="196.5" y2="472" stroke="#222" stroke-width="1"/>
<line x1="196" y1="471.5" x2="357.5" y2="471.5" stroke="#222" stroke-width="1"/>
<line x1="193.3" y1="471.5" x2="196.5" y2="471.5" stroke="#222" stroke-width="1"/>
<text x="189.3" y="474.4" font-size="8.8" text-anchor="end" font-weight="normal" fill="#111" textLength="4.75" lengthAdjust="spacingAndGlyphs">0</text>
<line x1="193.3" y1="458.5" x2="196.5" y2="458.5" stroke="#222" stroke-width="1"/>
<text x="189.3" y="461.72" font-size="8.8" text-anchor="end" font-weight="normal" fill="#111" textLength="9.5" lengthAdjust="spacingAndGlyphs">20</text>
<line x1="193.3" y1="445.5" x2="196.5" y2="445.5" stroke="#222" stroke-width="1"/>
<text x="189.3" y="449.04" font-size="8.8" text-anchor="end" font-weight="normal" fill="#111" textLength="9.5" lengthAdjust="spacingAndGlyphs">40</text>
<line x1="193.3" y1="433.5" x2="196.5" y2="433.5" stroke="#222" stroke-width="1"/>
<text x="189.3" y="436.36" font-size="8.8" text-anchor="end" font-weight="normal" fill="#111" textLength="9.5" lengthAdjust="spacingAndGlyphs">60</text>
<line x1="193.3" y1="420.5" x2="196.5" y2="420.5" stroke="#222" stroke-width="1"/>
<text x="189.3" y="423.68" font-size="8.8" text-anchor="end" font-weight="normal" fill="#111" textLength="9.5" lengthAdjust="spacingAndGlyphs">80</text>
<line x1="193.3" y1="407.5" x2="196.5" y2="407.5" stroke="#222" stroke-width="1"/>
<text x="189.3" y="411" font-size="8.8" text-anchor="end" font-weight="normal" fill="#111" textLength="14.25" lengthAdjust="spacingAndGlyphs">100</text>
<line x1="193.3" y1="395.5" x2="196.5" y2="395.5" stroke="#222" stroke-width="1"/>
<line x1="193.3" y1="382.5" x2="196.5" y2="382.5" stroke="#222" stroke-width="1"/>
<line x1="209.5" y1="471.5" x2="209.5" y2="474.5" stroke="#222" stroke-width="1"/>
<text transform="translate(212.4 481.2) rotate(-45)" font-size="8.8" text-anchor="end" fill="#111" textLength="15" lengthAdjust="spacingAndGlyphs">Con</text>
<line x1="236.5" y1="471.5" x2="236.5" y2="474.5" stroke="#222" stroke-width="1"/>
<text transform="translate(240.8 482.4) rotate(-45)" font-size="8.8" text-anchor="end" fill="#111" textLength="19.5" lengthAdjust="spacingAndGlyphs">PLX5</text>
<line x1="263.5" y1="471.5" x2="263.5" y2="474.5" stroke="#222" stroke-width="1"/>
<text transform="translate(267.9 482.4) rotate(-45)" font-size="8.8" text-anchor="end" fill="#111" textLength="19.5" lengthAdjust="spacingAndGlyphs">PLX2</text>
<line x1="290.5" y1="471.5" x2="290.5" y2="474.5" stroke="#222" stroke-width="1"/>
<text transform="translate(295 482.4) rotate(-45)" font-size="8.8" text-anchor="end" fill="#111" textLength="30.2" lengthAdjust="spacingAndGlyphs">ABT199</text>
<line x1="317.5" y1="471.5" x2="317.5" y2="474.5" stroke="#222" stroke-width="1"/>
<text transform="translate(322.1 482.4) rotate(-45)" font-size="8.8" text-anchor="end" fill="#111" textLength="45.8" lengthAdjust="spacingAndGlyphs">PLX5 &amp; ABT</text>
<line x1="344.5" y1="471.5" x2="344.5" y2="474.5" stroke="#222" stroke-width="1"/>
<text transform="translate(349.2 482.4) rotate(-45)" font-size="8.8" text-anchor="end" fill="#111" textLength="45.8" lengthAdjust="spacingAndGlyphs">PLX2 &amp; ABT</text>
<circle cx="202.2" cy="407.9" r="2.3" fill="#6db3f2" stroke="#151515" stroke-width="0.9"/>
<circle cx="204.9" cy="407.9" r="2.3" fill="#6db3f2" stroke="#151515" stroke-width="0.9"/>
<rect x="209.8" y="405.6" width="4.6" height="4.6" fill="#62ae3c" stroke="#151515" stroke-width="1"/>
<rect x="214.4" y="405.6" width="4.6" height="4.6" fill="#62ae3c" stroke="#151515" stroke-width="1"/>
<circle cx="228.8" cy="407.9" r="2.3" fill="#6db3f2" stroke="#151515" stroke-width="0.9"/>
<circle cx="228.8" cy="414.24" r="2.3" fill="#6db3f2" stroke="#151515" stroke-width="0.9"/>
<circle cx="232.8" cy="411.96" r="2.3" fill="#6db3f2" stroke="#151515" stroke-width="0.9"/>
<rect x="237.2" y="405.92" width="4.6" height="4.6" fill="#62ae3c" stroke="#151515" stroke-width="1"/>
<rect x="241.9" y="404.71" width="4.6" height="4.6" fill="#62ae3c" stroke="#151515" stroke-width="1"/>
<circle cx="255.4" cy="407.71" r="2.3" fill="#6db3f2" stroke="#151515" stroke-width="0.9"/>
<circle cx="260" cy="406.7" r="2.3" fill="#6db3f2" stroke="#151515" stroke-width="0.9"/>
<circle cx="257.7" cy="405.11" r="2.3" fill="#6db3f2" stroke="#151515" stroke-width="0.9"/>
<rect x="264.2" y="405.09" width="4.6" height="4.6" fill="#62ae3c" stroke="#151515" stroke-width="1"/>
<rect x="268.9" y="403.89" width="4.6" height="4.6" fill="#62ae3c" stroke="#151515" stroke-width="1"/>
<circle cx="285.1" cy="439.22" r="2.3" fill="#6db3f2" stroke="#151515" stroke-width="0.9"/>
<circle cx="283" cy="443.85" r="2.3" fill="#6db3f2" stroke="#151515" stroke-width="0.9"/>
<circle cx="287.1" cy="443.85" r="2.3" fill="#6db3f2" stroke="#151515" stroke-width="0.9"/>
<rect x="293.9" y="426.84" width="4.6" height="4.6" fill="#62ae3c" stroke="#151515" stroke-width="1"/>
<rect x="291" y="433.37" width="4.6" height="4.6" fill="#62ae3c" stroke="#151515" stroke-width="1"/>
<rect x="295.9" y="432.93" width="4.6" height="4.6" fill="#62ae3c" stroke="#151515" stroke-width="1"/>
<circle cx="309.4" cy="467.12" r="2.3" fill="#6db3f2" stroke="#151515" stroke-width="0.9"/>
<circle cx="312.3" cy="466.23" r="2.3" fill="#6db3f2" stroke="#151515" stroke-width="0.9"/>
<circle cx="314.6" cy="466.74" r="2.3" fill="#6db3f2" stroke="#151515" stroke-width="0.9"/>
<rect x="321.2" y="438.76" width="4.6" height="4.6" fill="#62ae3c" stroke="#151515" stroke-width="1"/>
<rect x="318.7" y="442.5" width="4.6" height="4.6" fill="#62ae3c" stroke="#151515" stroke-width="1"/>
<rect x="323.5" y="442.5" width="4.6" height="4.6" fill="#62ae3c" stroke="#151515" stroke-width="1"/>
<circle cx="336.9" cy="456.34" r="2.3" fill="#6db3f2" stroke="#151515" stroke-width="0.9"/>
<circle cx="341.5" cy="459.13" r="2.3" fill="#6db3f2" stroke="#151515" stroke-width="0.9"/>
<circle cx="339.2" cy="464.83" r="2.3" fill="#6db3f2" stroke="#151515" stroke-width="0.9"/>
<rect x="345.6" y="429.18" width="4.6" height="4.6" fill="#62ae3c" stroke="#151515" stroke-width="1"/>
<rect x="350.8" y="429.18" width="4.6" height="4.6" fill="#62ae3c" stroke="#151515" stroke-width="1"/>
<rect x="348.1" y="435.27" width="4.6" height="4.6" fill="#62ae3c" stroke="#151515" stroke-width="1"/>
<text transform="translate(169.2 425.6) rotate(-90)" font-size="9.6" text-anchor="middle" fill="#111" textLength="61.2" lengthAdjust="spacingAndGlyphs">% specific viability</text>
<path d="M230.5 401.1V399.5H241.5V401.1" fill="none" stroke="#222" stroke-width="0.8"/>
<text x="236" y="397.5" font-size="7.8" text-anchor="middle" font-weight="normal" fill="#111">ns</text>
<path d="M257.4 400.1V398.5H269.7V400.1" fill="none" stroke="#222" stroke-width="0.8"/>
<text x="263.55" y="396.5" font-size="7.8" text-anchor="middle" font-weight="normal" fill="#111">ns</text>
<path d="M284.6 424.1V422.5H296.7V424.1" fill="none" stroke="#222" stroke-width="0.8"/>
<text x="290.65" y="420.5" font-size="7.8" text-anchor="middle" font-weight="normal" fill="#111">ns</text>
<path d="M311.9 437.1V435.5H323.5V437.1" fill="none" stroke="#222" stroke-width="0.8"/>
<text x="317.7" y="436.7" font-size="7" text-anchor="middle" font-weight="normal" fill="#111">*</text>
<path d="M339.2 426.1V424.5H350.4V426.1" fill="none" stroke="#222" stroke-width="0.8"/>
<text x="344.8" y="425.7" font-size="7" text-anchor="middle" font-weight="normal" fill="#111">**</text>
<circle cx="328.8" cy="383.6" r="2.5" fill="#6db3f2" stroke="#151515" stroke-width="0.9"/>
<text x="335" y="386.6" font-size="9.5" text-anchor="start" font-weight="normal" fill="#111" textLength="16.2" lengthAdjust="spacingAndGlyphs">GFP</text>
<rect x="326.4" y="393.5" width="4.8" height="4.8" fill="#62ae3c" stroke="#151515" stroke-width="1"/>
<text x="335" y="398.8" font-size="9.5" text-anchor="start" font-weight="normal" fill="#111" textLength="22.4" lengthAdjust="spacingAndGlyphs">ShBim</text>
<rect x="0.5" y="0.5" width="519" height="523" fill="none" stroke="#000" stroke-width="1.2"/>
</svg></body></html>
